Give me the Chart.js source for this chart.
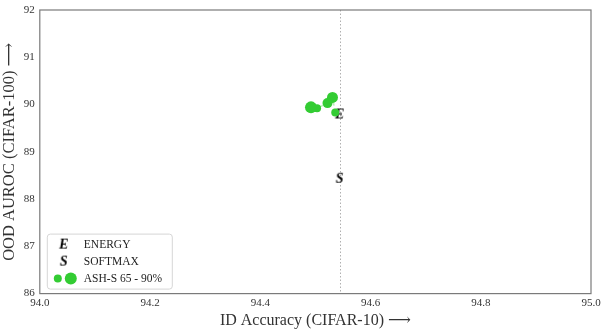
<!DOCTYPE html>
<html lang="en">
    <head>
        <meta charset="UTF-8">
        <title>ASH-S scatter</title>
        <style>
            body { margin: 0; background: #fff; }
        </style>
    </head>
    <body>
        <canvas id="myChart" width="609" height="334"></canvas>
        <script src="https://cdn.jsdelivr.net/npm/chart.js@4.4.0/dist/chart.umd.min.js"></script>
        <script>
            // values
            var energyPoint = [{x: 94.544, y: 89.79}];
            var softmaxPoint = [{x: 94.544, y: 88.43}];
            var ashX = [94.536, 94.531, 94.522, 94.503, 94.492];
            var ashY = [89.83, 90.15, 90.03, 89.92, 89.94];
            var ashRadius = [4, 5.5, 5, 4, 6];
            var xTicks = [94.0, 94.2, 94.4, 94.6, 94.8, 95.0];
            var yTicks = [86, 87, 88, 89, 90, 91, 92];
            var baselineX = 94.544;

            var serif = "'Liberation Serif', 'DejaVu Serif', serif";
            var green = '#33cc33';

            function letterMarker(ch) {
                var c = document.createElement('canvas');
                c.width = 16; c.height = 16;
                var g = c.getContext('2d');
                g.font = 'italic bold 14px ' + serif;
                g.textAlign = 'center';
                g.textBaseline = 'middle';
                g.fillStyle = '#000';
                g.fillText(ch, 8, 8.5);
                return c;
            }
            var eMark = letterMarker('E');
            var sMark = letterMarker('S');

            var ashData = ashX.map(function (v, i) { return {x: v, y: ashY[i]}; });

            var extras = {
                id: 'extras',
                beforeDatasetsDraw: function (chart) {
                    var c = chart.ctx, a = chart.chartArea;
                    var px = chart.scales.x.getPixelForValue(baselineX);
                    c.save();
                    c.strokeStyle = '#b0b0b0';
                    c.lineWidth = 1;
                    c.setLineDash([1.5, 2]);
                    c.beginPath();
                    c.moveTo(Math.round(px) + 0.5, a.top);
                    c.lineTo(Math.round(px) + 0.5, a.bottom);
                    c.stroke();
                    c.restore();
                },
                afterDraw: function (chart) {
                    var c = chart.ctx, a = chart.chartArea;
                    // frame
                    c.save();
                    c.strokeStyle = '#7a7a7a';
                    c.lineWidth = 1.2;
                    c.strokeRect(a.left, a.top, a.right - a.left, a.bottom - a.top);
                    // legend box
                    var bx = a.left + 7, by = a.bottom - 60, bw = 125, bh = 55;
                    c.fillStyle = 'rgba(255,255,255,0.85)';
                    c.strokeStyle = '#d6d6d6';
                    c.lineWidth = 1;
                    c.beginPath();
                    c.roundRect(bx + 0.5, by + 0.5, bw, bh, 3);
                    c.fill();
                    c.stroke();
                    c.font = '11.5px ' + serif;
                    c.fillStyle = '#222';
                    c.textBaseline = 'middle';
                    var rows = [by + 11, by + 28, by + 45];
                    c.drawImage(eMark, bx + 9, rows[0] - 8);
                    c.fillText('ENERGY', bx + 37, rows[0]);
                    c.drawImage(sMark, bx + 9, rows[1] - 8);
                    c.fillText('SOFTMAX', bx + 37, rows[1]);
                    c.fillStyle = green;
                    c.beginPath(); c.arc(bx + 11, rows[2], 4, 0, Math.PI * 2); c.fill();
                    c.beginPath(); c.arc(bx + 24, rows[2], 6, 0, Math.PI * 2); c.fill();
                    c.fillStyle = '#222';
                    c.fillText('ASH-S 65 - 90%', bx + 37, rows[2]);
                    c.restore();
                }
            };

            var ctx = document.getElementById('myChart').getContext('2d');
            new Chart(ctx, {
                type: 'scatter',
                data: {
                    datasets: [
                        {
                            label: 'ASH-S 65 - 90%',
                            data: ashData,
                            backgroundColor: green,
                            borderColor: 'rgba(51,204,51,0.35)',
                            borderWidth: 1.5,
                            pointBorderWidth: 0,
                            borderDash: [4, 3],
                            showLine: true,
                            pointRadius: ashRadius,
                            pointHoverRadius: ashRadius
                        },
                        {
                            label: 'ENERGY',
                            data: energyPoint,
                            pointStyle: eMark
                        },
                        {
                            label: 'SOFTMAX',
                            data: softmaxPoint,
                            pointStyle: sMark
                        }
                    ]
                },
                options: {
                    responsive: false,
                    animation: false,
                    events: [],
                    layout: { padding: { top: 10, right: 18, left: 0, bottom: 4 } },
                    plugins: {
                        legend: { display: false },
                        tooltip: { enabled: false }
                    },
                    scales: {
                        x: {
                            type: 'linear',
                            min: 94.0,
                            max: 95.0,
                            afterBuildTicks: function (axis) {
                                axis.ticks = xTicks.map(function (v) { return {value: v}; });
                            },
                            grid: { display: false, drawTicks: true, tickLength: 3, tickColor: '#7a7a7a' },
                            border: { display: false },
                            ticks: {
                                padding: 0,
                                color: '#333',
                                font: { family: serif, size: 11 },
                                maxRotation: 0,
                                callback: function (v) { return v.toFixed(1); }
                            },
                            title: {
                                display: true,
                                text: 'ID Accuracy (CIFAR-10) \u27F6',
                                color: '#333',
                                font: { family: serif, size: 16 },
                                padding: { top: 1, bottom: 0 }
                            }
                        },
                        y: {
                            type: 'linear',
                            min: 86,
                            max: 92,
                            afterBuildTicks: function (axis) {
                                axis.ticks = yTicks.map(function (v) { return {value: v}; });
                            },
                            grid: { display: false, drawTicks: true, tickLength: 3, tickColor: '#7a7a7a' },
                            border: { display: false },
                            ticks: {
                                padding: 2,
                                color: '#333',
                                font: { family: serif, size: 11 }
                            },
                            title: {
                                display: true,
                                text: 'OOD AUROC (CIFAR-100) \u27F6',
                                color: '#333',
                                font: { family: serif, size: 16.5 },
                                padding: { top: 0, bottom: 2 }
                            }
                        }
                    }
                },
                plugins: [extras]
            });
        </script>
    </body>
</html>
